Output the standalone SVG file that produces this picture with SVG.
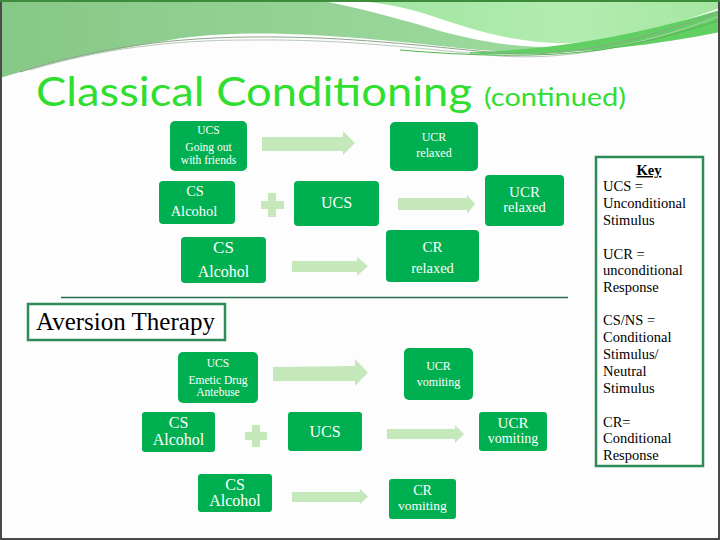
<svg xmlns="http://www.w3.org/2000/svg" width="720" height="540" viewBox="0 0 720 540">
<defs>
<linearGradient id="gL" x1="0" y1="0" x2="1" y2="0">
<stop offset="0" stop-color="#86c886"/><stop offset="0.5" stop-color="#97d497"/><stop offset="1" stop-color="#a2dea2"/>
</linearGradient>
<linearGradient id="gR" x1="0" y1="0" x2="1" y2="0">
<stop offset="0" stop-color="#9fe49f"/><stop offset="0.6" stop-color="#b2edb0"/><stop offset="1" stop-color="#a6e6a0"/>
</linearGradient>
<style>
.box{fill:#00b050;}
.bt{fill:#ffffff;font-family:"Liberation Serif","DejaVu Serif",serif;text-anchor:middle;}
.arr{fill:#c5e8bb;}
.key{fill:#000000;font-family:"Liberation Serif","DejaVu Serif",serif;font-size:14.5px;}
</style>
</defs>
<rect x="0" y="0" width="720" height="540" fill="#fdfdfd"/>
<!-- header decoration -->
<path d="M0,0 H720 V20 C680,32 620,48 560,52 C500,55 440,45 380,40 C300,33 230,30 170,40 C110,50 50,62 0,78 Z" fill="url(#gL)"/>
<path d="M318,0 H720 V10 C670,28 620,42 570,46 C520,50 470,40 430,28 C390,16 350,6 318,0 Z" fill="#ffffff"/>
<path d="M348,0 H720 V8 C670,26 620,40 572,43 C522,45 472,30 432,16 C402,6 375,2 348,0 Z" fill="url(#gR)"/>
<path d="M470,52 C560,50 640,34 720,10 V32 C650,46 570,56 470,54 Z" fill="#62cf62"/>
<path d="M20,72 C90,50 160,38 250,37 C350,36 420,46 500,53 C560,57 620,48 720,12" fill="none" stroke="#8fa58f" stroke-width="1"/>
<path d="M30,70 C100,49 170,40 250,40 C350,39 420,49 500,56 C560,60 630,50 720,16" fill="none" stroke="#b9c9b9" stroke-width="1"/>
<path d="M400,50 C470,56 540,58 600,50 C650,42 690,30 720,20" fill="none" stroke="#4fb84f" stroke-width="1"/>
<!-- frame -->
<rect x="1" y="1" width="718" height="538" fill="none" stroke="#4a4a4a" stroke-width="2"/>
<line x1="0" y1="1" x2="720" y2="1" stroke="#3c8c3c" stroke-width="2"/>
<!-- title -->
<text x="36" y="106" font-family="Lato,'Open Sans',sans-serif" font-size="41" fill="#30de30" textLength="436" lengthAdjust="spacingAndGlyphs">Classical Conditioning</text>
<text x="484" y="106" font-family="Lato,'Open Sans',sans-serif" font-size="25" fill="#30de30" textLength="142" lengthAdjust="spacingAndGlyphs">(continued)</text>
<!-- connectors -->
<g id="connectors">
<polygon class="arr" points="262,137 343,137 343,131 355,143 343,155 343,151 262,151"/>
<polygon class="arr" points="398,198 467,198 467,195 475,204 467,214 467,210 398,210"/>
<polygon class="arr" points="292,261 357,261 357,257 368,266 357,276 357,272 292,272"/>
<polygon class="arr" points="261,201 268,201 268,193 276,193 276,201 284,201 284,209 276,209 276,217 268,217 268,209 261,209"/>
<polygon class="arr" points="273,367 355,366 355,359 368,372.5 355,386 355,381 273,381"/>
<polygon class="arr" points="387,429 455,429 455,425 464,434 455,443 455,439 387,439"/>
<polygon class="arr" points="292,492 360,492 360,489 368,496.5 360,504 360,502 292,502"/>
<polygon class="arr" points="245,432 252,432 252,425 260,425 260,432 267,432 267,440 260,440 260,447 252,447 252,440 245,440"/>
</g>
<line x1="61" y1="297.5" x2="568" y2="297.5" stroke="#2b6e4f" stroke-width="1.5"/>
<!-- top section nodes -->
<g id="n1"><rect class="box" x="170" y="121" width="77" height="50" rx="5"/>
<text class="bt" x="208.5" y="134" font-size="11.5">UCS</text>
<text class="bt" x="208.5" y="151" font-size="11.5">Going out</text>
<text class="bt" x="208.5" y="164" font-size="11.5">with friends</text></g>
<g id="n2"><rect class="box" x="390" y="122" width="88" height="49" rx="5"/>
<text class="bt" x="434" y="141" font-size="12">UCR</text>
<text class="bt" x="434" y="157" font-size="12">relaxed</text></g>
<g id="n3"><rect class="box" x="159" y="181" width="76" height="43" rx="4"/>
<text class="bt" x="195" y="196" font-size="14.5">CS</text>
<text class="bt" x="194" y="216" font-size="14.5">Alcohol</text></g>
<g id="n4"><rect class="box" x="294" y="181" width="85" height="45" rx="4"/>
<text class="bt" x="336.5" y="208" font-size="16">UCS</text></g>
<g id="n5"><rect class="box" x="485" y="175" width="79" height="51" rx="4"/>
<text class="bt" x="524.5" y="197" font-size="15">UCR</text>
<text class="bt" x="524.5" y="212" font-size="14.5">relaxed</text></g>
<g id="n6"><rect class="box" x="181" y="237" width="85" height="46" rx="4"/>
<text class="bt" x="223.5" y="253" font-size="17">CS</text>
<text class="bt" x="223.5" y="277" font-size="16">Alcohol</text></g>
<g id="n7"><rect class="box" x="386" y="230" width="93" height="52" rx="4"/>
<text class="bt" x="432.5" y="252" font-size="15">CR</text>
<text class="bt" x="432.5" y="273" font-size="14.5">relaxed</text></g>
<!-- aversion therapy -->
<g id="aversion"><rect x="28" y="304" width="197" height="36" fill="#ffffff" stroke="#2e8b57" stroke-width="2.5"/>
<text x="36" y="330" font-family="'Liberation Serif','DejaVu Serif',serif" font-size="25" fill="#000000">Aversion Therapy</text></g>
<!-- lower section nodes -->
<g id="n8"><rect class="box" x="178" y="352" width="80" height="51" rx="5"/>
<text class="bt" x="218" y="367" font-size="11.5">UCS</text>
<text class="bt" x="218" y="384" font-size="11.5">Emetic Drug</text>
<text class="bt" x="218" y="396" font-size="11.5">Antebuse</text></g>
<g id="n9"><rect class="box" x="404" y="348" width="69" height="52" rx="5"/>
<text class="bt" x="438.5" y="370" font-size="12">UCR</text>
<text class="bt" x="438.5" y="386" font-size="12">vomiting</text></g>
<g id="n10"><rect class="box" x="142" y="412" width="73" height="40" rx="3"/>
<text class="bt" x="178.5" y="428" font-size="16">CS</text>
<text class="bt" x="178.5" y="445" font-size="16">Alcohol</text></g>
<g id="n11"><rect class="box" x="288" y="412" width="74" height="39" rx="3"/>
<text class="bt" x="325" y="437" font-size="16">UCS</text></g>
<g id="n12"><rect class="box" x="479" y="412" width="68" height="39" rx="3"/>
<text class="bt" x="513" y="428" font-size="15">UCR</text>
<text class="bt" x="513" y="443" font-size="14">vomiting</text></g>
<g id="n13"><rect class="box" x="198" y="474" width="74" height="38" rx="3"/>
<text class="bt" x="235" y="490" font-size="16">CS</text>
<text class="bt" x="235" y="506" font-size="16">Alcohol</text></g>
<g id="n14"><rect class="box" x="389" y="479" width="67" height="40" rx="3"/>
<text class="bt" x="422.5" y="495" font-size="14">CR</text>
<text class="bt" x="422.5" y="510" font-size="13.5">vomiting</text></g>
<!-- key -->
<g id="key"><rect x="596" y="157" width="107" height="309" fill="#ffffff" stroke="#2e8b57" stroke-width="2.5"/>
<text x="649" y="175" font-family="'Liberation Serif','DejaVu Serif',serif" font-size="14.5" font-weight="bold" text-anchor="middle" text-decoration="underline">Key</text>
<text class="key" x="603" y="191">UCS =</text>
<text class="key" x="603" y="208">Unconditional</text>
<text class="key" x="603" y="225">Stimulus</text>
<text class="key" x="603" y="259">UCR =</text>
<text class="key" x="603" y="275">unconditional</text>
<text class="key" x="603" y="292">Response</text>
<text class="key" x="603" y="325">CS/NS =</text>
<text class="key" x="603" y="342">Conditional</text>
<text class="key" x="603" y="359">Stimulus/</text>
<text class="key" x="603" y="376">Neutral</text>
<text class="key" x="603" y="393">Stimulus</text>
<text class="key" x="603" y="427">CR=</text>
<text class="key" x="603" y="443">Conditional</text>
<text class="key" x="603" y="460">Response</text></g>
</svg>
